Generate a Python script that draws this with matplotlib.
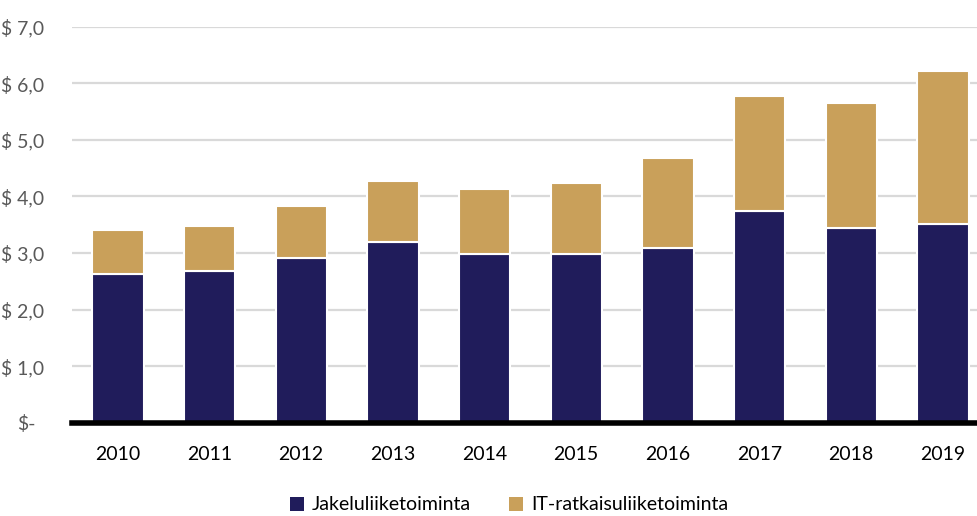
import matplotlib
matplotlib.use("Agg")
import matplotlib.pyplot as plt
from matplotlib.patches import Patch

years = ["2010", "2011", "2012", "2013", "2014", "2015", "2016", "2017", "2018", "2019"]
jakelu = [2.63, 2.69, 2.91, 3.19, 2.98, 2.98, 3.08, 3.75, 3.45, 3.51]
it_ratkaisu = [0.78, 0.78, 0.92, 1.08, 1.15, 1.26, 1.60, 2.03, 2.20, 2.71]
yticks = [0, 1, 2, 3, 4, 5, 6, 7]
ytick_labels = ["$-", "$ 1,0", "$ 2,0", "$ 3,0", "$ 4,0", "$ 5,0", "$ 6,0", "$ 7,0"]
series_names = ["Jakeluliiketoiminta", "IT-ratkaisuliiketoiminta"]

navy = "#201c5b"
gold = "#c9a05a"

plt.rcParams['font.family'] = ['Lato', 'DejaVu Sans']

W, H = 978, 516
fig = plt.figure(figsize=(W / 100, H / 100), dpi=100)
left, right, bottom, top = 72, 978, 516 - 422.7, 516 - 26.7
ax = fig.add_axes([left / W, bottom / H, (right - left) / W, (top - bottom) / H])

x = list(range(len(years)))
spacing = 91.67
ax.set_xlim(-0.5, -0.5 + (right - left) / spacing)
ax.set_ylim(0, 7)

ax.bar(x, jakelu, width=0.56, color=navy, edgecolor="white", linewidth=1.5, zorder=3)
ax.bar(x, it_ratkaisu, bottom=jakelu, width=0.56, color=gold, edgecolor="white",
       linewidth=1.5, zorder=3)

ax.set_yticks(yticks)
ax.set_yticklabels(ytick_labels)
ax.set_xticks(x)
ax.set_xticklabels(years)
ax.yaxis.grid(True, color="#d9d9d9", linewidth=1.6, zorder=0)
ax.set_axisbelow(True)
for s in ["top", "right", "left"]:
    ax.spines[s].set_visible(False)
ax.spines["bottom"].set_color("black")
ax.spines["bottom"].set_linewidth(4)
ax.spines["bottom"].set_zorder(5)
ax.tick_params(axis="both", length=0)
ax.tick_params(axis="y", labelsize=14, labelcolor="#595959", pad=20)
ax.tick_params(axis="x", labelsize=14, labelcolor="black", pad=17)
# the zero label sits a little further left of the axis in the reference
ax.get_yticklabels()[0].set_x(-0.009)

handles = [Patch(facecolor=navy, edgecolor="none"), Patch(facecolor=gold, edgecolor="none")]
fig.legend(handles, series_names, loc="center", bbox_to_anchor=(509 / W, 1 - 505 / H),
           ncol=2, frameon=False, fontsize=14, handlelength=0.7, handleheight=0.7,
           handletextpad=0.4, columnspacing=2.0)

fig.savefig("out.png", dpi=100)
